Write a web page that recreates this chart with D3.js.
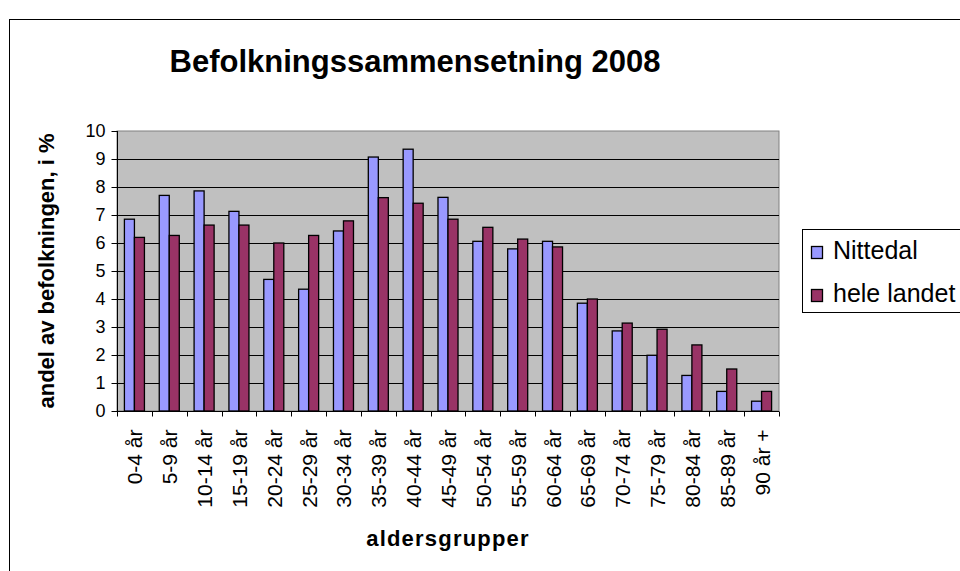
<!DOCTYPE html>
<html lang="no">
<head>
  <meta charset="UTF-8">
  <title>Befolkningssammensetning 2008</title>
  <script src="https://cdn.jsdelivr.net/npm/d3@7"></script>
  <style>
    body { margin: 0; background: #fff; }
    text { font-family: "Liberation Sans", Arial, sans-serif; }
  </style>
</head>
<body>
<script>
  const ageGroups = ["0-4 år", "5-9 år", "10-14 år", "15-19 år", "20-24 år", "25-29 år", "30-34 år",
    "35-39 år", "40-44 år", "45-49 år", "50-54 år", "55-59 år", "60-64 år", "65-69 år",
    "70-74 år", "75-79 år", "80-84 år", "85-89 år", "90 år +"];
  const nittedal = [6.85, 7.7, 7.86, 7.13, 4.7, 4.35, 6.43, 9.07, 9.35, 7.63, 6.06, 5.79, 6.06, 3.85, 2.86, 1.99, 1.27, 0.7, 0.35];
  const heleLandet = [6.2, 6.27, 6.64, 6.64, 6.0, 6.27, 6.79, 7.62, 7.42, 6.85, 6.56, 6.14, 5.86, 4.0, 3.14, 2.92, 2.36, 1.5, 0.7];
  const seriesNames = ["Nittedal", "hele landet"];
  const yTicks = [0, 1, 2, 3, 4, 5, 6, 7, 8, 9, 10];

  const colors = { "Nittedal": "#9999FF", "hele landet": "#993366" };

  const width = 960, height = 571;
  const plot = { left: 117, right: 779, top: 131, bottom: 411 };

  const svg = d3.select("body").append("svg")
    .attr("width", width)
    .attr("height", height);

  // outer frame (runs off the right and bottom edge)
  svg.append("rect")
    .attr("x", 9.5).attr("y", 19.5)
    .attr("width", 1000).attr("height", 600)
    .attr("fill", "#fff").attr("stroke", "#000");

  svg.append("text")
    .attr("x", 415).attr("y", 72)
    .attr("text-anchor", "middle")
    .attr("font-size", 31).attr("font-weight", "bold")
    .text("Befolkningssammensetning 2008");

  const x = d3.scaleBand()
    .domain(ageGroups)
    .range([plot.left, plot.right])
    .padding(0);

  const xInner = d3.scaleBand()
    .domain(seriesNames)
    .range([0, x.bandwidth()])
    .paddingInner(0)
    .paddingOuter(0.74);

  const y = d3.scaleLinear()
    .domain([0, 10])
    .range([plot.bottom, plot.top]);

  // plot background
  svg.append("rect")
    .attr("x", plot.left).attr("y", plot.top)
    .attr("width", plot.right - plot.left).attr("height", plot.bottom - plot.top)
    .attr("fill", "#C0C0C0").attr("stroke", "#808080");

  // gridlines
  svg.append("g")
    .selectAll("line")
    .data(yTicks.filter(d => d > 0 && d < 10))
    .join("line")
    .attr("x1", plot.left).attr("x2", plot.right)
    .attr("y1", d => Math.round(y(d)) + 0.5).attr("y2", d => Math.round(y(d)) + 0.5)
    .attr("stroke", "#000");

  const rows = ageGroups.map((g, i) => ({ group: g, values: [
    { key: "Nittedal", value: nittedal[i] },
    { key: "hele landet", value: heleLandet[i] }
  ] }));

  svg.append("g")
    .selectAll("g")
    .data(rows)
    .join("g")
    .attr("transform", d => `translate(${x(d.group)},0)`)
    .selectAll("rect")
    .data(d => d.values)
    .join("rect")
    .attr("x", d => xInner(d.key))
    .attr("y", d => y(d.value))
    .attr("width", xInner.bandwidth())
    .attr("height", d => y(0) - y(d.value))
    .attr("fill", d => colors[d.key])
    .attr("stroke", "#000")
    .attr("stroke-width", 1.3);

  // y axis
  const yAxis = svg.append("g")
    .attr("transform", `translate(${plot.left + 0.5},0)`)
    .call(d3.axisLeft(y).tickValues(yTicks).tickSize(6).tickPadding(6).tickFormat(d3.format("d")));
  yAxis.select(".domain").attr("stroke", "#000").attr("d", `M0,${plot.top}V${plot.bottom}`);
  yAxis.selectAll(".tick line").attr("stroke", "#000");
  yAxis.selectAll(".tick text")
    .attr("font-family", "Liberation Sans, Arial, sans-serif")
    .attr("font-size", 18).attr("fill", "#000");

  // x axis with ticks on band edges
  const xAxis = svg.append("g")
    .attr("transform", `translate(0,${plot.bottom + 0.5})`);
  xAxis.append("line")
    .attr("x1", plot.left).attr("x2", plot.right)
    .attr("stroke", "#000");
  xAxis.selectAll("line.tk")
    .data(ageGroups.concat(["end"]))
    .join("line")
    .attr("class", "tk")
    .attr("x1", (d, i) => Math.round(i < ageGroups.length ? x(d) : plot.right) + 0.5)
    .attr("x2", (d, i) => Math.round(i < ageGroups.length ? x(d) : plot.right) + 0.5)
    .attr("y1", 0).attr("y2", 5)
    .attr("stroke", "#000");
  xAxis.selectAll("text")
    .data(ageGroups)
    .join("text")
    .attr("transform", d => `translate(${x(d) + x.bandwidth() / 2 + 8},${18}) rotate(-90)`)
    .attr("text-anchor", "end")
    .attr("font-size", 21)
    .text(d => d);

  // axis titles
  svg.append("text")
    .attr("transform", "translate(54,271) rotate(-90)")
    .attr("text-anchor", "middle")
    .attr("font-size", 22).attr("font-weight", "bold")
    .text("andel av befolkningen, i %");

  svg.append("text")
    .attr("x", 448).attr("y", 546)
    .attr("text-anchor", "middle")
    .attr("font-size", 22).attr("font-weight", "bold")
    .attr("letter-spacing", 1.2)
    .text("aldersgrupper");

  // legend
  const legend = svg.append("g");
  legend.append("rect")
    .attr("x", 802.5).attr("y", 229.5)
    .attr("width", 200).attr("height", 83)
    .attr("fill", "#fff").attr("stroke", "#000");
  const items = legend.selectAll("g")
    .data(seriesNames)
    .join("g")
    .attr("transform", (d, i) => `translate(0,${i * 43})`);
  items.append("rect")
    .attr("x", 811.5).attr("y", 246.5)
    .attr("width", 11).attr("height", 12)
    .attr("fill", d => colors[d]).attr("stroke", "#000").attr("stroke-width", 1.3);
  items.append("text")
    .attr("x", 833).attr("y", 259)
    .attr("font-size", 25)
    .text(d => d);
</script>
</body>
</html>
